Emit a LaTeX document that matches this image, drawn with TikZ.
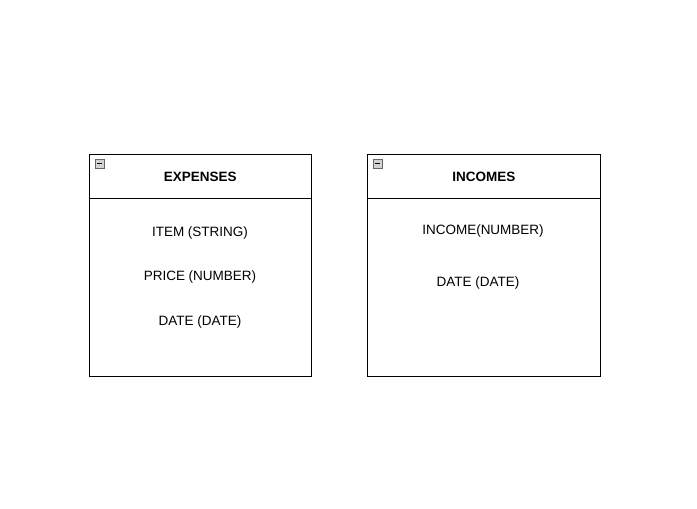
\documentclass[tikz,border=0pt]{standalone}
\usepackage{fontspec}
\setmainfont{Liberation Sans}
\usetikzlibrary{positioning}

\begin{document}
\begin{tikzpicture}[x=1pt, y=-1pt,
		tablehead/.style={draw, line width=0.6pt, anchor=north west, inner sep=0pt, text depth=0pt, font=\fontsize{13.5}{15}\selectfont\bfseries},
		tablebody/.style={draw, line width=0.6pt, anchor=north west, inner sep=0pt},
		field/.style={font=\fontsize{13.5}{15}\selectfont, inner sep=0pt},
		collapse/.style={draw=gray!80!black, fill=gray!35, line width=0.4pt, minimum size=9pt, inner sep=0pt, anchor=north west}]
			\useasboundingbox (0,0) rectangle (697,509);
			\node[tablehead, minimum width=222pt, minimum height=44pt] (expHead) at (89,154) {EXPENSES};
			\node[tablebody, minimum width=222pt, minimum height=178pt] (expBody) at (89,198) {};
			\node[tablehead, minimum width=233pt, minimum height=44pt] (incHead) at (367,154) {INCOMES};
			\node[tablebody, minimum width=233pt, minimum height=178pt] (incBody) at (367,198) {};
			\node[collapse] (expIcon) at (95,159) {};
			\node[collapse] (incIcon) at (373,159) {};
			\draw[line width=0.7pt] ([xshift=2pt]expIcon.west) -- ([xshift=-2pt]expIcon.east);
			\draw[line width=0.7pt] ([xshift=2pt]incIcon.west) -- ([xshift=-2pt]incIcon.east);
			\node[field] (expItem) at (200,233.5) {ITEM (STRING)};
			\node[field, below=31pt of expItem] (expPrice) {PRICE (NUMBER)};
			\node[field, below=32pt of expPrice] (expDate) {DATE (DATE)};
			\node[field] (incIncome) at (483,231.5) {INCOME(NUMBER)};
			\node[field] (incDate) at (478,283.5) {DATE (DATE)};
		\end{tikzpicture}
\end{document}
